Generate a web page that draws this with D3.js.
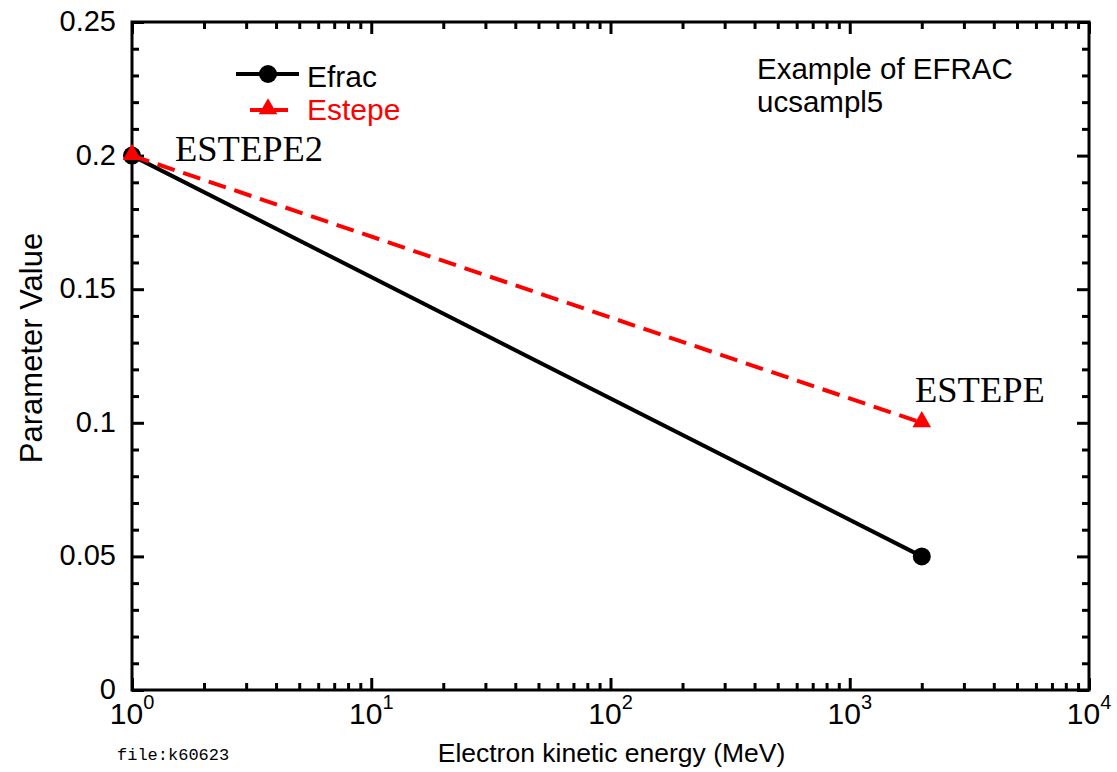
<!DOCTYPE html>
<html>
  <head>
    <meta charset="utf-8">
    <title>EFRAC</title>
    <style>
      body { margin: 0; background: #fff; }
    </style>
  </head>
  <body>
    <script src="https://cdn.jsdelivr.net/npm/d3@7"></script>
    <script>
      // data
      var energy = [1, 2000];            // MeV
      var efrac = [0.2, 0.05];
      var estepe = [0.2, 0.1];
      var xTicks = [1, 10, 100, 1000, 10000];
      var xExp = ['0', '1', '2', '3', '4'];
      var yTicks = [0, 0.05, 0.1, 0.15, 0.2, 0.25];
      var yTickLabels = ['0', '0.05', '0.1', '0.15', '0.2', '0.25'];

      var
        width = 1117,
        height = 772,
        padLeft = 132, padRight = 1089, padTop = 22, padBottom = 690;

      var sans = '"Liberation Sans", Arial, sans-serif',
        serif = '"Liberation Serif", "Times New Roman", serif',
        mono = '"Liberation Mono", "DejaVu Sans Mono", monospace';

      var svg = d3.select('body')
        .append('svg')
        .attr('width', width)
        .attr('height', height)
        .style('font-family', sans);

      var x = d3.scaleLog().domain([1, 10000]).range([padLeft, padRight]);
      var y = d3.scaleLinear().domain([0, 0.25]).range([padBottom, padTop]);

      // minor ticks
      var xMinor = [];
      for (var d = 0; d < 4; d++) {
        for (var k = 2; k < 10; k++) xMinor.push(k * Math.pow(10, d));
      }
      var yMinor = d3.range(0, 26).filter(function(i) { return i % 5 != 0; })
        .map(function(i) { return i / 100; });

      // inward ticks on all four sides using d3 axes
      function tickAxis(axisFn, scale, vals, len, tr) {
        var g = svg.append('g')
          .attr('transform', tr)
          .call(axisFn(scale).tickValues(vals).tickSize(len).tickFormat(''));
        g.select('.domain').remove();
        g.selectAll('line').attr('stroke', '#000').attr('stroke-width', 3);
        return g;
      }
      tickAxis(d3.axisTop, x, xTicks, 12, 'translate(0,' + padBottom + ')');
      tickAxis(d3.axisTop, x, xMinor, 7, 'translate(0,' + padBottom + ')');
      tickAxis(d3.axisBottom, x, xTicks, 12, 'translate(0,' + padTop + ')');
      tickAxis(d3.axisBottom, x, xMinor, 7, 'translate(0,' + padTop + ')');
      tickAxis(d3.axisRight, y, yTicks, 12, 'translate(' + padLeft + ',0)');
      tickAxis(d3.axisRight, y, yMinor, 7, 'translate(' + padLeft + ',0)');
      tickAxis(d3.axisLeft, y, yTicks, 12, 'translate(' + padRight + ',0)');
      tickAxis(d3.axisLeft, y, yMinor, 7, 'translate(' + padRight + ',0)');

      // frame
      svg.append('rect')
        .attr('x', padLeft).attr('y', padTop)
        .attr('width', padRight - padLeft).attr('height', padBottom - padTop)
        .attr('fill', 'none').attr('stroke', '#000').attr('stroke-width', 3);

      // y tick labels
      svg.selectAll('.ylab').data(yTicks).enter().append('text')
        .attr('class', 'ylab')
        .attr('x', padLeft - 16)
        .attr('y', function(d) { return y(d) + 9; })
        .attr('text-anchor', 'end')
        .attr('font-size', 29)
        .text(function(d, i) { return yTickLabels[i]; });

      // x tick labels 10^n
      var xl = svg.selectAll('.xlab').data(xTicks).enter().append('text')
        .attr('class', 'xlab')
        .attr('x', function(d) { return x(d); })
        .attr('y', padBottom + 34)
        .attr('text-anchor', 'middle')
        .attr('font-size', 30);
      xl.append('tspan').text('10');
      xl.append('tspan').attr('dy', -15).attr('font-size', 20)
        .text(function(d, i) { return xExp[i]; });

      // axis titles
      svg.append('text')
        .attr('x', (padLeft + padRight) / 2 + 1)
        .attr('y', 762)
        .attr('text-anchor', 'middle')
        .attr('font-size', 26.5)
        .text('Electron kinetic energy (MeV)');

      svg.append('text')
        .attr('transform', 'translate(42,348) rotate(-90)')
        .attr('text-anchor', 'middle')
        .attr('font-size', 31)
        .text('Parameter Value');

      svg.append('text')
        .attr('x', 117).attr('y', 760)
        .style('font-family', mono)
        .attr('font-size', 17)
        .text('file:k60623');

      // series
      var line = d3.line()
        .x(function(d) { return x(d[0]); })
        .y(function(d) { return y(d[1]); });

      var efracPts = energy.map(function(e, i) { return [e, efrac[i]]; });
      var estepePts = energy.map(function(e, i) { return [e, estepe[i]]; });

      svg.append('path').datum(efracPts)
        .attr('d', line)
        .attr('fill', 'none').attr('stroke', '#000').attr('stroke-width', 4);
      svg.selectAll('.dot').data(efracPts).enter().append('circle')
        .attr('class', 'dot')
        .attr('cx', function(d) { return x(d[0]); })
        .attr('cy', function(d) { return y(d[1]); })
        .attr('r', 9).attr('fill', '#000');

      svg.append('path').datum(estepePts)
        .attr('d', line)
        .attr('fill', 'none').attr('stroke', '#ff0000').attr('stroke-width', 4)
        .attr('stroke-dasharray', '18,9');

      var tri = d3.symbol().type(d3.symbolTriangle).size(150);
      svg.selectAll('.tri').data(estepePts).enter().append('path')
        .attr('class', 'tri')
        .attr('transform', function(d) { return 'translate(' + x(d[0]) + ',' + (y(d[1]) - 1) + ')'; })
        .attr('d', tri)
        .attr('fill', '#ff0000');

      // legend
      svg.append('line')
        .attr('x1', 236).attr('x2', 299).attr('y1', 74).attr('y2', 74)
        .attr('stroke', '#000').attr('stroke-width', 4);
      svg.append('circle').attr('cx', 268).attr('cy', 74).attr('r', 9).attr('fill', '#000');
      svg.append('text').attr('x', 307).attr('y', 87).attr('font-size', 30).text('Efrac');

      svg.append('line')
        .attr('x1', 250).attr('x2', 296).attr('y1', 110).attr('y2', 110)
        .attr('stroke', '#ff0000').attr('stroke-width', 4)
        .attr('stroke-dasharray', '14,10');
      svg.append('path')
        .attr('transform', 'translate(268,109)')
        .attr('d', tri).attr('fill', '#ff0000');
      svg.append('text').attr('x', 307).attr('y', 120).attr('font-size', 30)
        .attr('fill', '#ff0000').text('Estepe');

      // annotations
      svg.append('text').attr('x', 757).attr('y', 79).attr('font-size', 29.5)
        .text('Example of EFRAC');
      svg.append('text').attr('x', 757).attr('y', 112).attr('font-size', 29.5)
        .text('ucsampl5');

      svg.append('text').attr('x', 175).attr('y', 161)
        .style('font-family', serif)
        .attr('font-size', 36.5).text('ESTEPE2');
      svg.append('text').attr('x', 915).attr('y', 402)
        .style('font-family', serif)
        .attr('font-size', 36.5).text('ESTEPE');
    </script>
  </body>
</html>
